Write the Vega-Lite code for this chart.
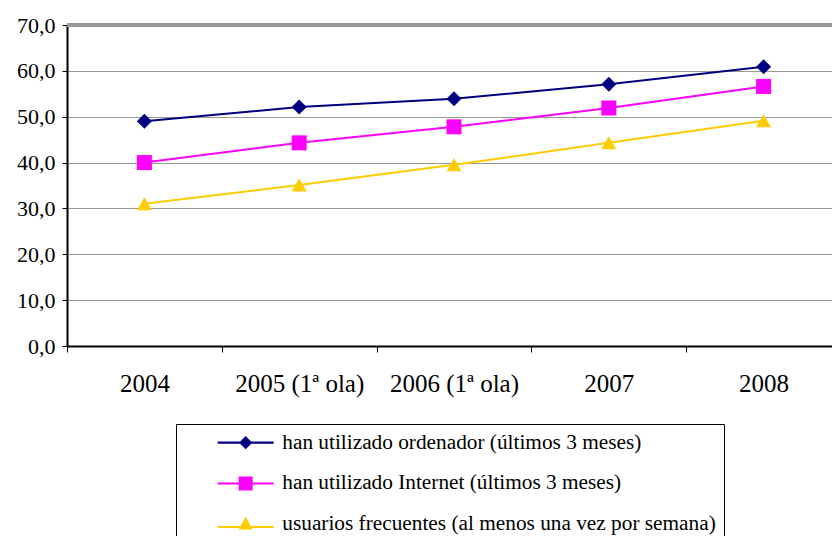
{
  "$schema": "https://vega.github.io/schema/vega-lite/v6.json",
  "width": 765,
  "height": 321,
  "autosize": {"type": "none"},
  "padding": {"left": 67, "top": 25, "right": 0, "bottom": 190},
  "background": "white",
  "config": {
    "view": {"stroke": null},
    "font": "Liberation Serif",
    "axis": {"labelFont": "Liberation Serif", "labelColor": "black"},
    "axisY": {"labelFont": "Liberation Serif", "labelFontSize": 22},
    "legend": {"labelFont": "Liberation Serif"}
  },
  "data": {"values": [
    {"year": "2004", "serie": "han utilizado ordenador (últimos 3 meses)", "value": 49.0},
    {"year": "2005 (1ª ola)", "serie": "han utilizado ordenador (últimos 3 meses)", "value": 52.1},
    {"year": "2006 (1ª ola)", "serie": "han utilizado ordenador (últimos 3 meses)", "value": 53.9},
    {"year": "2007", "serie": "han utilizado ordenador (últimos 3 meses)", "value": 57.1},
    {"year": "2008", "serie": "han utilizado ordenador (últimos 3 meses)", "value": 60.9},
    {"year": "2004", "serie": "han utilizado Internet (últimos 3 meses)", "value": 40.0},
    {"year": "2005 (1ª ola)", "serie": "han utilizado Internet (últimos 3 meses)", "value": 44.3},
    {"year": "2006 (1ª ola)", "serie": "han utilizado Internet (últimos 3 meses)", "value": 47.8},
    {"year": "2007", "serie": "han utilizado Internet (últimos 3 meses)", "value": 51.9},
    {"year": "2008", "serie": "han utilizado Internet (últimos 3 meses)", "value": 56.6},
    {"year": "2004", "serie": "usuarios frecuentes (al menos una vez por semana)", "value": 31.0},
    {"year": "2005 (1ª ola)", "serie": "usuarios frecuentes (al menos una vez por semana)", "value": 35.1},
    {"year": "2006 (1ª ola)", "serie": "usuarios frecuentes (al menos una vez por semana)", "value": 39.5},
    {"year": "2007", "serie": "usuarios frecuentes (al menos una vez por semana)", "value": 44.3},
    {"year": "2008", "serie": "usuarios frecuentes (al menos una vez por semana)", "value": 49.1}
  ]},
  "layer": [
    {
      "mark": {"type": "rule", "color": "#999999", "strokeWidth": 2.5},
      "encoding": {"y": {"datum": 70, "type": "quantitative", "axis": {"labelFontSize": 22, "labelFont": "Liberation Serif"}}}
    },
    {
      "encoding": {
        "x": {
          "field": "year", "type": "ordinal", "bandPosition": 0.5,
          "sort": ["2004", "2005 (1ª ola)", "2006 (1ª ola)", "2007", "2008"],
          "scale": {"type": "band", "range": [0, 774], "paddingInner": 0, "paddingOuter": 0},
          "axis": {
            "title": null, "tickBand": "extent", "grid": false, "labelAngle": 0,
            "domainColor": "black", "domainWidth": 2, "tickColor": "black", "tickSize": 6, "tickWidth": 1,
            "labelFont": "Liberation Serif", "labelFontSize": 25, "labelColor": "black", "labelPadding": 19
          }
        },
        "y": {
          "field": "value", "type": "quantitative",
          "scale": {"domain": [0, 70], "nice": false},
          "axis": {
            "title": null, "values": [0, 10, 20, 30, 40, 50, 60, 70],
            "labelExpr": "replace(format(datum.value, '.1f'), '.', ',')",
            "labelFont": "Liberation Serif", "labelFontSize": 22, "labelColor": "black", "labelPadding": 7,
            "domainColor": "black", "domainWidth": 2, "tickColor": "black", "tickSize": 5, "tickWidth": 1,
            "grid": true, "gridColor": "#999999", "gridWidth": 1
          }
        }
      },
      "layer": [
        {
          "mark": {"type": "line", "strokeWidth": 2},
          "encoding": {
            "color": {
              "field": "serie", "type": "nominal",
              "scale": {
                "domain": ["han utilizado ordenador (últimos 3 meses)", "han utilizado Internet (últimos 3 meses)", "usuarios frecuentes (al menos una vez por semana)"],
                "range": ["#000080", "#FF00FF", "#FFCC00"]
              },
              "legend": {
                "title": null, "orient": "none", "legendX": 109, "legendY": 399,
                "strokeColor": "black", "fillColor": "white", "padding": 8,
                "symbolSize": 196, "symbolOffset": 51, "labelOffset": 26,
                "labelFont": "Liberation Serif", "labelFontSize": 21.3, "labelColor": "black", "labelLimit": 0,
                "rowPadding": 18.8,
                "encode": {
                  "symbols": {
                    "update": {
                      "shape": {"signal": "indexof(datum.value, 'ordenador') >= 0 ? 'M-4,-0.15L4,-0.15L4,0.15L-4,0.15ZM0,-0.95L0.95,0L0,0.95L-0.95,0Z' : indexof(datum.value, 'Internet') >= 0 ? 'M-4,-0.15L4,-0.15L4,0.15L-4,0.15ZM-1,-1L1,-1L1,1L-1,1Z' : 'M-4,0.25L4,0.25L4,0.55L-4,0.55ZM0,-1.1L1,0.75L-1,0.75Z'"},
                      "fill": {"signal": "indexof(datum.value, 'ordenador') >= 0 ? '#000080' : indexof(datum.value, 'Internet') >= 0 ? '#FF00FF' : '#FFCC00'"},
                      "stroke": {"value": "transparent"},
                      "strokeWidth": {"value": 0},
                      "opacity": {"value": 1},
                      "fillOpacity": {"value": 1}
                    }
                  }
                }
              }
            }
          }
        },
        {
          "mark": {"type": "point", "filled": true, "size": 225, "opacity": 1},
          "encoding": {
            "color": {"field": "serie", "type": "nominal", "legend": null},
            "shape": {
              "field": "serie", "type": "nominal", "legend": null,
              "scale": {
                "domain": ["han utilizado ordenador (últimos 3 meses)", "han utilizado Internet (últimos 3 meses)", "usuarios frecuentes (al menos una vez por semana)"],
                "range": ["diamond", "square", "triangle-up"]
              }
            }
          }
        }
      ],
      "resolve": {"legend": {"color": "independent", "shape": "independent"}}
    }
  ]
}
